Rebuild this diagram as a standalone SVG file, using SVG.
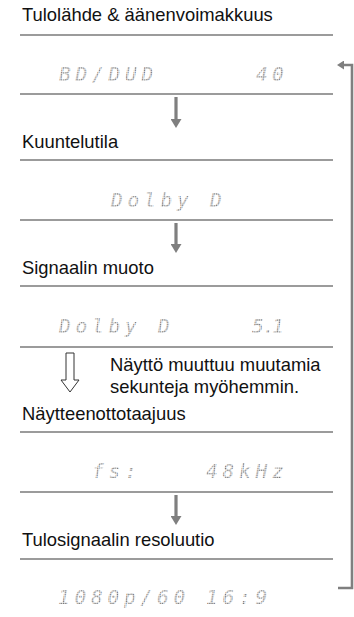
<svg xmlns="http://www.w3.org/2000/svg" width="354" height="617" viewBox="0 0 354 617">
<style>
.h{font-family:"Liberation Sans",Arial,sans-serif;font-size:18.4px;fill:#111}
.lcd{font-family:"DejaVu Sans Mono",monospace;font-style:oblique;font-size:19.5px;fill:url(#dots)}
.sep{stroke:#7a7a7a;stroke-width:1.3}
.dn{stroke:#7f7f7f;stroke-width:3.2;fill:none}
.loop{stroke:#7f7f7f;stroke-width:2.6;fill:none}
</style>
<defs>
<pattern id="dots" width="1.8" height="1.8" patternUnits="userSpaceOnUse">
<rect x="0" y="0" width="1.2" height="1.2" fill="#707070"/>
</pattern>
<marker id="ah" markerUnits="userSpaceOnUse" markerWidth="9" markerHeight="11" refX="0" refY="5.5" orient="auto">
<path d="M0,0 L9,5.5 L0,11 Z" fill="#7f7f7f"/>
</marker>
<marker id="ahs" markerUnits="userSpaceOnUse" markerWidth="7" markerHeight="9" refX="0" refY="4.5" orient="auto">
<path d="M0,0 L7,4.5 L0,9 Z" fill="#7f7f7f"/>
</marker>
</defs>
<rect width="354" height="617" fill="#fff"/>

<g id="n-input">
<text class="h" x="22" y="21">Tulolähde &amp; äänenvoimakkuus</text>
<line class="sep" x1="20" y1="35" x2="333" y2="35"/>
<text class="lcd" x="59 75.5 92 108.5 125 141.5" y="81">BD/DUD</text>
<text class="lcd" x="256 272" y="81">40</text>
<line class="sep" x1="20" y1="94" x2="333" y2="94"/>
</g>

<g id="n-listening">
<text class="h" x="22" y="148">Kuuntelutila</text>
<line class="sep" x1="20" y1="160" x2="333" y2="160"/>
<text class="lcd" x="111 127.5 144 160.5 177 193.5 210" y="207">Dolby D</text>
<line class="sep" x1="20" y1="220" x2="333" y2="220"/>
</g>

<g id="n-signal">
<text class="h" x="22" y="274">Signaalin muoto</text>
<line class="sep" x1="20" y1="286" x2="333" y2="286"/>
<text class="lcd" x="59 75.5 92 108.5 125 141.5 158" y="333">Dolby D</text>
<text class="lcd" x="252 263 272" y="333">5.1</text>
<line class="sep" x1="20" y1="347" x2="333" y2="347"/>
</g>

<g id="n-note">
<text class="h" x="110" y="371">Näyttö muuttuu muutamia</text>
<text class="h" x="110" y="393">sekunteja myöhemmin.</text>
</g>

<g id="n-fs">
<text class="h" x="22" y="420">Näytteenottotaajuus</text>
<line class="sep" x1="20" y1="432" x2="333" y2="432"/>
<text class="lcd" x="92 108.5 125" y="478">fs:</text>
<text class="lcd" x="206 222.5 239 255.5 272" y="478">48kHz</text>
<line class="sep" x1="20" y1="492" x2="333" y2="492"/>
</g>

<g id="n-res">
<text class="h" x="22" y="546">Tulosignaalin resoluutio</text>
<line class="sep" x1="20" y1="559" x2="333" y2="559"/>
<text class="lcd" x="58 74.5 91 107.5 124 140.5 157 173.5" y="604">1080p/60</text>
<text class="lcd" x="206 222.5 239 255.5" y="604">16:9</text>
</g>

<g id="connectors">
<line class="dn" x1="176" y1="97" x2="176" y2="119" marker-end="url(#ah)"/>
<line class="dn" x1="176" y1="223" x2="176" y2="244" marker-end="url(#ah)"/>
<line class="dn" x1="176" y1="495" x2="176" y2="516" marker-end="url(#ah)"/>
<path d="M66,353 H74 V380 H79 L70,392 L61,380 H66 Z" fill="#fff" stroke="#333" stroke-width="1"/>
<path class="loop" d="M338,588 H352 V65 H344" marker-end="url(#ahs)"/>
</g>
</svg>
